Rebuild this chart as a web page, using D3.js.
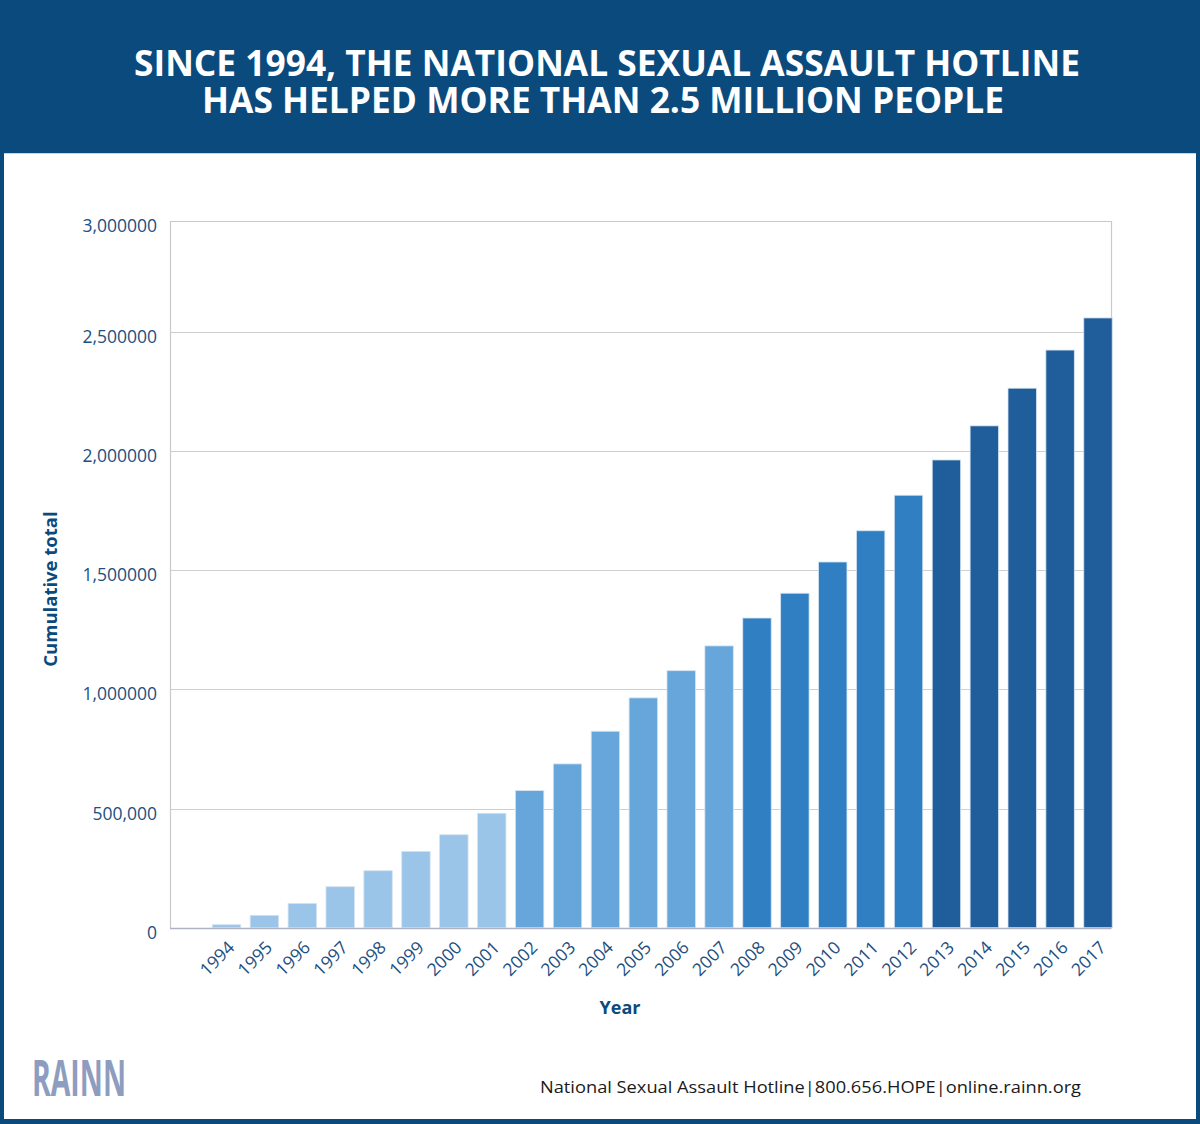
<!DOCTYPE html>
<html>
<head>
<meta charset="utf-8">
<script src="https://cdn.jsdelivr.net/npm/d3@7"></script>
<style>
  html, body { margin: 0; padding: 0; background: #ffffff; }
  svg { display: block; }
  text { font-family: "Open Sans", "Noto Sans", sans-serif; }
</style>
</head>
<body>
<svg id="chart" width="1200" height="1124"></svg>
<script>
// ---- data ----
const years = [1994,1995,1996,1997,1998,1999,2000,2001,2002,2003,2004,2005,
               2006,2007,2008,2009,2010,2011,2012,2013,2014,2015,2016,2017];
const cumulativeTotals = [12600, 52000, 102000, 172000, 239000, 320000, 390000, 480000,
                          575000, 687000, 824000, 964000, 1078000, 1182000, 1299000, 1403000,
                          1534000, 1665000, 1814000, 1962000, 2105000, 2263000, 2423000, 2562000];
const yTickValues = [0, 500000, 1000000, 1500000, 2000000, 2500000, 3000000];
const yTickLabels = ["0", "500,000", "1,000000", "1,500000", "2,000000", "2,500000", "3,000000"];
const titleLines = ["SINCE 1994, THE NATIONAL SEXUAL ASSAULT HOTLINE",
                    "HAS HELPED MORE THAN 2.5 MILLION PEOPLE"];
const yAxisTitle = "Cumulative total";
const xAxisTitle = "Year";
const footerText = "National Sexual Assault Hotline|800.656.HOPE|online.rainn.org";
const logoText = "RAINN";

// ---- layout ----
const W = 1200, H = 1124;
const svg = d3.select("#chart");
const navy = "#0b4a7c";
const axisText = "#1d4f80";

// background frame
svg.append("rect").attr("x", 0).attr("y", 0).attr("width", W).attr("height", H).attr("fill", navy);
svg.append("rect").attr("x", 4).attr("y", 153).attr("width", W - 8).attr("height", H - 153 - 5).attr("fill", "#ffffff");
svg.append("line").attr("x1", 4).attr("x2", W - 4).attr("y1", 153.5).attr("y2", 153.5)
  .attr("stroke", "#c9d3e0").attr("stroke-width", 1);

// title
const titleStarts = [134, 202];
const titleLens = [946, 802];
const titleBase = [76, 113];
titleLines.forEach((t, i) => {
  svg.append("text")
    .attr("x", titleStarts[i]).attr("y", titleBase[i])
    .attr("fill", "#ffffff")
    .attr("font-size", 35).attr("font-weight", 700)
    .attr("textLength", titleLens[i]).attr("lengthAdjust", "spacingAndGlyphs")
    .text(t);
});

// scales
const plotLeft = 170, plotRight = 1111.5;
const x = d3.scaleBand().domain(years).range([212.3, 1112.2]).paddingInner(0.25).paddingOuter(0);
const y = d3.scaleLinear().domain([0, 2500000, 3000000]).range([927.7, 331.7, 220.7]);

const colour = d3.scaleThreshold().domain([2002, 2008, 2013])
  .range(["#9ac5e9", "#66a6da", "#2f7fc2", "#1f5e9b"]);

// gridlines
const g = svg.append("g");
g.selectAll("line.grid").data(yTickValues.filter(v => v > 0 && v < 3000000)).join("line")
  .attr("class", "grid")
  .attr("x1", plotLeft).attr("x2", plotRight)
  .attr("y1", d => Math.round(y(d)) + 0.5).attr("y2", d => Math.round(y(d)) + 0.5)
  .attr("stroke", "#cfcfcf").attr("stroke-width", 1.2);

// frame (left, top, right)
const topY = Math.round(y(3000000)) + 0.5;
g.append("path")
  .attr("d", `M${plotLeft + 0.5},${Math.round(y(0))} V${topY} H${plotRight} V${Math.round(y(0))}`)
  .attr("fill", "none").attr("stroke", "#c9c9c9").attr("stroke-width", 1.2);

// bars
g.selectAll("rect.bar").data(years).join("rect")
  .attr("class", "bar")
  .attr("x", d => x(d))
  .attr("width", x.bandwidth())
  .attr("y", (d, i) => y(cumulativeTotals[i]))
  .attr("height", (d, i) => y(0) - y(cumulativeTotals[i]))
  .attr("fill", d => colour(d))
  .attr("stroke", "#d5e3f1").attr("stroke-width", 0.8);

// baseline
g.append("line")
  .attr("x1", plotLeft).attr("x2", plotRight)
  .attr("y1", Math.round(y(0)) + 0.5).attr("y2", Math.round(y(0)) + 0.5)
  .attr("stroke", "#aeb1c2").attr("stroke-width", 1.4);

// y axis labels
const yAxis = d3.axisLeft(y).tickValues(yTickValues)
  .tickFormat((d, i) => yTickLabels[i]).tickSize(0).tickPadding(0);
const yg = svg.append("g").attr("transform", `translate(157,0)`).call(yAxis);
yg.select(".domain").remove();
yg.selectAll("text")
  .attr("font-family", "'Open Sans', sans-serif")
  .attr("font-size", 17.5).attr("fill", axisText)
  .attr("dy", "0.6em");

// x axis labels
const xAxis = d3.axisBottom(x).tickSize(0).tickPadding(0);
const xg = svg.append("g").attr("transform", `translate(0,${y(0)})`).call(xAxis);
xg.select(".domain").remove();
xg.selectAll("text")
  .attr("font-family", "'Open Sans', sans-serif")
  .attr("font-size", 17.5).attr("fill", axisText)
  .attr("text-anchor", "end")
  .attr("dy", null).attr("y", 0)
  .attr("transform", "translate(9,21) rotate(-45)");

// axis titles
svg.append("text")
  .attr("transform", "translate(57,589) rotate(-90)")
  .attr("text-anchor", "middle")
  .attr("font-size", 18.5).attr("font-weight", 700).attr("fill", navy)
  .text(yAxisTitle);

svg.append("text")
  .attr("x", 620).attr("y", 1014)
  .attr("text-anchor", "middle")
  .attr("font-size", 18).attr("font-weight", 700).attr("fill", navy)
  .text(xAxisTitle);

// logo & footer
svg.append("text")
  .attr("x", 32).attr("y", 1096)
  .attr("font-size", 50).attr("font-weight", 700).attr("fill", "#8e9dbf")
  .attr("textLength", 94).attr("lengthAdjust", "spacingAndGlyphs")
  .text(logoText);

svg.append("text")
  .attr("x", 540).attr("y", 1093)
  .attr("font-size", 17).attr("fill", "#1a1a1a")
  .attr("textLength", 541).attr("lengthAdjust", "spacingAndGlyphs")
  .text(footerText);
</script>
</body>
</html>
